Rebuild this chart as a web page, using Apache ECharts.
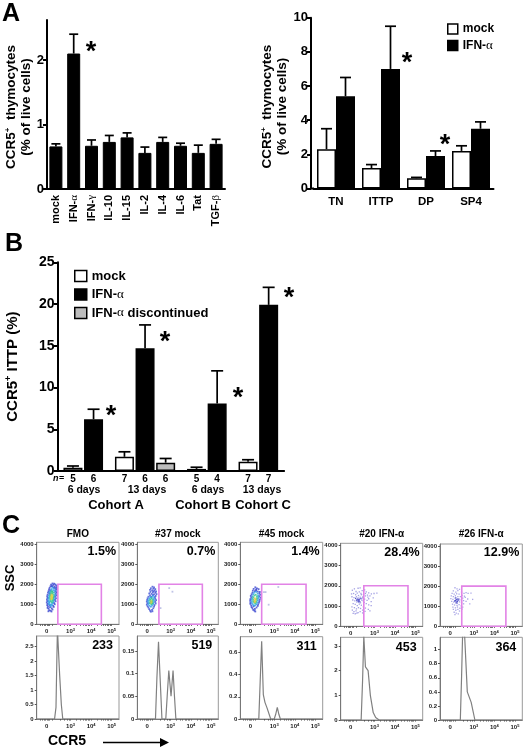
<!DOCTYPE html>
<html>
<head>
<meta charset="utf-8">
<style>html,body{margin:0;padding:0;background:#fff}#c{width:526px;height:750px}</style>
<script src="https://cdn.jsdelivr.net/npm/echarts@6/dist/echarts.min.js"></script>
</head>
<body>
<div id="c"></div>
<script>
// ---- Panel A left ----
const cytokines = ['mock','IFN-α','IFN-γ','IL-10','IL-15','IL-2','IL-4','IL-6','Tat','TGF-β'];
const cytokineValues = [0.66,2.1,0.67,0.73,0.8,0.56,0.73,0.67,0.56,0.7];
const cytokineErrTop = [0.7,2.4,0.76,0.83,0.87,0.65,0.8,0.71,0.68,0.77];
const cytokineTicks = [0,1,2];
// ---- Panel A right ----
const subsets = ['TN','ITTP','DP','SP4'];
const subsetMock = [2.3,1.2,0.6,2.2];
const subsetMockErr = [3.5,1.4,0.65,2.5];
const subsetIfn = [5.4,7.0,1.9,3.5];
const subsetIfnErr = [6.5,9.5,2.2,3.9];
// ---- Panel B (spacer slots are blank categories) ----
const cohortSlots = ['','5','','6','','','7','','6','','6','','','5','','4','','','7','','7',''];
const cohortMock = [null,0.4,null,null,null,null,1.7,null,null,null,null,null,null,0.25,null,null,null,null,1.1,null,null,null];
const cohortMockErr = [null,0.6,null,null,null,null,2.3,null,null,null,null,null,null,0.45,null,null,null,null,1.35,null,null,null];
const cohortIfn = [null,null,null,6.2,null,null,null,null,14.7,null,null,null,null,null,null,8.1,null,null,null,null,19.9,null];
const cohortIfnErr = [null,null,null,7.4,null,null,null,null,17.5,null,null,null,null,null,null,12,null,null,null,null,22,null];
const cohortDisc = [null,null,null,null,null,null,null,null,null,null,1.0,null,null,null,null,null,null,null,null,null,null,null];
const cohortDiscErr = [null,null,null,null,null,null,null,null,null,null,1.5,null,null,null,null,null,null,null,null,null,null,null];
// ---- Panel C ----
const sampleNames = ['FMO','#37 mock','#45 mock','#20 IFN-α','#26 IFN-α'];
const gatePercent = ['1.5%','0.7%','1.4%','28.4%','12.9%'];
const medians = ['233','519','311','453','364'];
const gateLow = [2.38,2.42,2.39,2.48,2.41];
const gateHigh = [4.5,4.57,4.55,4.64,4.56];
const gateTop = 2000;
const histMax = [2.87,0.183,0.741,3.35,1.175];
const histTicks = [[0,0.5,1,1.5,2,2.5],[0,0.05,0.1,0.15],[0,0.2,0.4,0.6],[0,1,2,3],[0,0.2,0.4,0.6,0.8,1]];
const hist0 = [[1.35,0],[2.22,0],[2.29,0.4],[2.33,2.0],[2.36,3.1],[2.42,3.1],[2.47,1.5],[2.55,0.5],[2.62,0],[5.36,0]];
const hist1 = [[1.35,0],[2.25,0],[2.32,0.09],[2.4,0.17],[2.48,0.09],[2.57,0],[2.76,0],[2.83,0.05],[2.91,0.107],[3.02,0.05],[3.12,0.107],[3.19,0.05],[3.26,0],[5.36,0]];
const hist2 = [[1.35,0],[2.25,0],[2.32,0.35],[2.39,0.7],[2.47,0.22],[2.55,0.15],[2.65,0.1],[2.72,0.11],[2.83,0],[3.0,0],[3.07,0.04],[3.15,0.105],[3.23,0.04],[3.3,0],[5.36,0]];
const hist3 = [[1.35,0],[2.35,0],[2.42,1.6],[2.48,3.4],[2.56,2.15],[2.69,2.0],[2.8,1.0],[2.94,0.3],[3.06,0.1],[3.23,0],[5.36,0]];
const hist4 = [[1.35,0],[2.34,0],[2.4,0.6],[2.45,1.2],[2.55,1.2],[2.68,0.4],[2.87,0.25],[3.05,0],[5.36,0]];
const histograms = [hist0,hist1,hist2,hist3,hist4];

// flow plot events by density colour
const fmoBlue = [[2.12,2040],[2.2,2030],[2.05,1980],[2.16,1970],[2.26,1990],[2.3,1940],[2.02,1900],[2.1,1910],[2.21,1880],[2.31,1860],[1.98,1820],[2.25,1810],[2.33,1780],[1.95,1750],[2.01,1700],[2.29,1720],[1.93,1660],[2.27,1640],[2.32,1600],[1.9,1580],[1.97,1540],[2.28,1530],[1.88,1480],[2.3,1450],[1.86,1400],[2.26,1380],[1.88,1320],[2.29,1300],[1.85,1240],[2.24,1220],[1.87,1160],[2.27,1150],[1.84,1090],[2.2,1060],[1.88,1020],[2.23,1000],[1.86,950],[2.15,930],[1.9,900],[2.18,870],[1.88,820],[2.08,800],[1.93,780],[2.12,740],[1.96,700],[2.03,680],[1.92,650],[2.07,640],[2.0,860],[2.08,1900],[2.18,1830],[1.98,950]];
const fmoCyan = [[2.12,1840],[2.2,1780],[2.08,1760],[2.04,1700],[2.17,1700],[2.24,1680],[2.0,1620],[2.12,1640],[2.22,1600],[1.97,1580],[2.24,1500],[2.0,1480],[1.94,1440],[2.22,1420],[1.94,1350],[2.2,1340],[1.92,1280],[2.2,1260],[1.94,1200],[2.18,1180],[1.92,1130],[2.16,1110],[1.96,1070],[2.12,1060],[1.94,1010],[2.1,960],[2.0,970],[2.04,900],[2.06,1000],[1.98,1120]];
const fmoGreen = [[2.1,1640],[2.16,1580],[2.04,1550],[2.1,1540],[2.16,1480],[2.02,1450],[2.18,1400],[2.0,1380],[2.15,1320],[2.0,1300],[2.14,1240],[2.02,1220],[2.12,1180],[2.04,1150],[2.09,1100],[2.06,1640]];
const fmoYellow = [[2.07,1480],[2.11,1440],[2.05,1400],[2.1,1370],[2.07,1330],[2.1,1280],[2.05,1260]];

const m37Blue = [[2.1,1880],[2.18,1840],[2.02,1800],[2.14,1780],[2.24,1760],[1.98,1720],[2.08,1700],[2.2,1680],[2.28,1640],[2.0,1620],[2.12,1600],[2.24,1580],[1.94,1540],[2.06,1520],[2.18,1500],[2.3,1510],[1.98,1440],[2.26,1420],[1.9,1380],[2.22,1360],[1.86,1300],[2.24,1280],[1.84,1220],[2.28,1210],[1.82,1140],[2.24,1120],[1.85,1060],[2.26,1040],[1.82,980],[2.2,960],[1.86,900],[2.18,880],[1.9,840],[2.14,800],[1.94,760],[2.08,720],[1.98,680],[2.02,630],[2.1,650],[2.15,1650],[2.05,1380],[2.12,1460]];
const m37Cyan = [[2.12,1420],[2.0,1360],[2.18,1340],[1.94,1290],[2.16,1260],[1.9,1200],[2.18,1180],[1.88,1130],[2.16,1100],[1.92,1060],[2.14,1020],[1.9,990],[2.08,940],[1.96,930],[2.02,880],[2.06,1320]];
const m37Green = [[2.06,1300],[2.0,1250],[2.1,1220],[1.98,1190],[2.1,1150],[2.0,1120],[2.08,1090],[1.98,1060],[2.04,1010],[2.1,1040]];
const m37Yellow = [[2.04,1170],[2.06,1110],[2.03,1070]];
const m37Out = [[2.5,810],[2.93,1810],[3.09,1630]];

const m45Blue = [[2.08,1850],[2.16,1800],[2.0,1770],[2.12,1740],[2.24,1760],[1.96,1680],[2.06,1660],[2.2,1640],[2.3,1620],[1.94,1580],[2.28,1550],[1.9,1500],[2.32,1480],[1.86,1420],[2.28,1400],[1.88,1340],[2.34,1330],[1.84,1260],[2.3,1240],[1.83,1180],[2.28,1160],[1.84,1090],[2.26,1080],[1.84,1020],[2.22,1000],[1.88,940],[2.2,920],[1.9,860],[2.14,840],[1.94,800],[2.06,770],[1.98,720],[2.04,680],[2.08,640],[2.12,1700],[2.0,900]];
const m45Cyan = [[2.12,1620],[2.02,1580],[2.2,1540],[1.98,1500],[2.22,1440],[1.94,1400],[2.24,1360],[1.92,1300],[2.22,1280],[1.9,1220],[2.2,1200],[1.9,1130],[2.18,1100],[1.92,1060],[2.14,1010],[1.96,980],[2.08,950],[2.02,930]];
const m45Green = [[2.1,1480],[2.04,1440],[2.16,1400],[1.98,1350],[2.16,1310],[1.98,1250],[2.14,1220],[1.98,1160],[2.12,1120],[2.02,1080],[2.08,1050]];
const m45Yellow = [[2.06,1300],[2.1,1240],[2.04,1200],[2.08,1150],[2.05,1110]];
const m45Out = [[2.5,1610],[2.58,1610],[2.73,980],[3.2,1865]];

const ifn20Pale = [[1.92,1780],[2.02,1850],[2.1,1720],[2.2,1880],[2.3,1900],[2.4,1760],[2.52,1800],[2.6,1700],[2.72,1650],[2.85,1600],[2.98,1620],[3.12,1640],[1.88,1600],[1.98,1620],[2.08,1560],[2.16,1640],[2.26,1700],[2.34,1620],[2.46,1560],[2.56,1500],[2.68,1440],[2.78,1500],[2.94,1400],[1.9,1460],[2.0,1420],[2.12,1460],[2.22,1520],[2.3,1440],[2.42,1400],[2.52,1340],[2.64,1280],[2.72,1360],[2.84,1220],[1.94,1300],[2.04,1260],[2.14,1200],[2.3,1220],[2.38,1300],[2.5,1180],[2.6,1120],[2.72,1060],[2.84,1020],[1.96,1120],[2.06,1080],[2.16,1020],[2.26,1100],[2.36,1040],[2.46,960],[2.56,900],[2.7,840],[2.78,760],[1.9,960],[2.02,920],[2.12,860],[2.22,920],[2.32,880],[2.42,800],[2.54,740],[1.92,800],[2.0,720],[2.1,760],[2.2,680],[2.3,720],[2.42,660],[1.96,640],[2.06,620],[2.14,650],[2.24,1330],[2.32,1160],[2.2,1400],[2.12,1320],[2.44,1460],[2.56,1620],[2.66,1540],[2.36,1560]];
const ifn20Dark = [[2.18,1340],[2.22,1300],[2.26,1260],[2.2,1240],[2.28,1340],[2.14,1280],[2.24,1200],[2.34,1380],[2.46,1260],[2.08,1380]];

const ifn26Pale = [[2.08,1920],[2.18,1860],[2.22,1780],[2.3,1840],[2.0,1760],[2.12,1700],[2.4,1700],[2.52,1640],[2.62,1680],[2.72,1640],[2.86,1650],[1.94,1640],[2.04,1600],[2.16,1620],[2.28,1600],[2.42,1540],[2.54,1500],[1.9,1520],[2.0,1480],[2.1,1520],[2.22,1480],[2.34,1480],[2.46,1400],[2.58,1440],[2.7,1360],[2.94,1340],[1.88,1380],[1.98,1340],[2.08,1400],[2.28,1360],[2.38,1320],[2.5,1280],[2.62,1240],[1.92,1240],[2.02,1200],[2.12,1160],[2.3,1220],[2.4,1180],[2.5,1120],[2.8,1120],[1.96,1100],[2.06,1060],[2.18,1040],[2.28,1080],[2.38,1020],[2.46,960],[1.98,960],[2.1,920],[2.2,960],[2.32,900],[2.42,860],[2.0,840],[2.12,800],[2.22,840],[2.3,760],[2.04,700],[2.14,660],[2.24,620],[2.08,580]];
const ifn26Dark = [[2.14,1340],[2.18,1300],[2.1,1280],[2.2,1240],[2.14,1220],[2.22,1360],[2.06,1260],[2.26,1300],[2.12,1420],[2.18,1160]];

const flowLayers = [
  [[fmoBlue,'#3a46d0'],[fmoCyan,'#2f9fe6'],[fmoGreen,'#35c58a'],[fmoYellow,'#d8d040']],
  [[m37Blue,'#3f50d4'],[m37Cyan,'#2f9fe6'],[m37Green,'#35c58a'],[m37Yellow,'#c8d050'],[m37Out,'#b0b4e0']],
  [[m45Blue,'#3a46d0'],[m45Cyan,'#2f9fe6'],[m45Green,'#35c58a'],[m45Yellow,'#d8c840'],[m45Out,'#b0b4e0']],
  [[ifn20Pale,'#8c88dc'],[ifn20Dark,'#2a2ac0']],
  [[ifn26Pale,'#9490e0'],[ifn26Dark,'#2a2ac0']]
];
const sscTicks = [0,1000,2000,3000,4000];
const logLabelTicks = [1.84,3,4,5];
const logMinorTicks = [1.5,1.6,1.7,1.78,1.84,1.9,1.98,2.1,2.5,2.7,2.82,2.92,3,3.3,3.48,3.6,3.7,3.78,3.85,3.92,4,4.3,4.48,4.6,4.7,4.78,4.85,4.92,5];

// ---- layout ----
const colLeft = [36.7,137.3,240.3,340.7,440];
const colWidth = [82.3,81,82.4,82,82.3];
const topRow = [[542.3,82],[542.3,82],[542.3,82],[543.3,83],[544,82.3]];
const bottomRow = [[636,83],[636,83],[636.7,82.3],[637.3,82.7],[637.3,82.7]];
const FONT = '"Liberation Sans", Arial, Helvetica, sans-serif';

const greekRich = {g:{fontFamily:'"Liberation Serif","DejaVu Serif",serif',fontWeight:'normal'}};
const greek = s => s.replace(/[αβγ]/g, m => '{g|'+m+'}');

const grids=[], xAxes=[], yAxes=[], series=[], graphics=[];
function addGrid(g,x,y){ g.outerBoundsMode='none'; grids.push(g); xAxes.push(Object.assign({gridIndex:grids.length-1},x)); yAxes.push(Object.assign({gridIndex:grids.length-1},y)); return grids.length-1; }
const blackLine = {show:true,onZero:false,lineStyle:{color:'#000',width:2}};
const blackTick = {show:true,length:4,lineStyle:{color:'#000',width:2}};

function errorSeries(gi,tops,bases,dx,capHalf,name){
  const data=[]; tops.forEach((t,i)=>{ if(t!=null) data.push([i,t,bases[i]]); });
  series.push({type:'custom',name:name,xAxisIndex:gi,yAxisIndex:gi,data,silent:true,z:3,clip:false,
    encode:{x:0,y:[1,2]},
    renderItem:(p,api)=>{
      const a=api.coord([api.value(0),api.value(1)]), b=api.coord([api.value(0),api.value(2)]);
      const st={stroke:'#000',lineWidth:1.7,fill:null};
      return {type:'group',children:[
        {type:'line',shape:{x1:a[0]+dx,y1:a[1],x2:b[0]+dx,y2:b[1]},style:st},
        {type:'line',shape:{x1:a[0]+dx-capHalf,y1:a[1],x2:a[0]+dx+capHalf,y2:a[1]},style:st}
      ]};
    }});
}

const nameRich = {a:{fontFamily:FONT,fontWeight:'bold',fontSize:13.5,color:'#000',lineHeight:15},s:{fontFamily:FONT,fontWeight:'bold',fontSize:8,color:'#000',verticalAlign:'top',lineHeight:15}};

// Panel A left
let g = addGrid({left:47,top:20,width:178,height:169},
 {type:'category',data:cytokines,axisLine:blackLine,axisTick:{show:false},
  axisLabel:{interval:0,rotate:90,margin:6,color:'#000',fontFamily:FONT,fontWeight:'bold',fontSize:11,rich:greekRich,formatter:greek}},
 {type:'value',min:0,max:2.62,splitLine:{show:false},axisLine:blackLine,axisTick:Object.assign({},blackTick,{customValues:cytokineTicks}),
  axisLabel:{customValues:cytokineTicks,color:'#000',fontFamily:FONT,fontWeight:'bold',fontSize:13,margin:3},
  name:'{a|CCR5}{s|+}{a|  thymocytes}\n{a|(% of live cells)}',nameLocation:'middle',nameRotate:90,nameGap:13.5,
  nameTextStyle:{padding:[0,5,0,0],rich:nameRich}});
series.push({type:'bar',xAxisIndex:g,yAxisIndex:g,data:cytokineValues,barWidth:13,itemStyle:{color:'#000',borderColor:'#000',borderWidth:1}});
errorSeries(g,cytokineErrTop,cytokineValues,0,4.5);

// Panel A right
g = addGrid({left:313.5,top:17.7,width:180,height:170.8},
 {type:'category',data:subsets,axisLine:blackLine,axisTick:{show:false},
  axisLabel:{interval:0,margin:7,color:'#000',fontFamily:FONT,fontWeight:'bold',fontSize:11.5}},
 {type:'value',min:0,max:10,interval:2,offset:2.5,splitLine:{show:false},axisLine:blackLine,axisTick:blackTick,
  axisLabel:{color:'#000',fontFamily:FONT,fontWeight:'bold',fontSize:13,margin:3},
  name:'{a|CCR5}{s|+}{a|  thymocytes}\n{a|(% of live cells)}',nameLocation:'middle',nameRotate:90,nameGap:17,
  nameTextStyle:{padding:[0,7,0,0],rich:nameRich}});
series.push({type:'bar',name:'mock',xAxisIndex:g,yAxisIndex:g,data:subsetMock,barWidth:19,barGap:0,itemStyle:{color:'#fff',borderColor:'#000',borderWidth:1.5}});
series.push({type:'bar',name:'IFN-α',xAxisIndex:g,yAxisIndex:g,data:subsetIfn,barWidth:19,barGap:0,itemStyle:{color:'#000',borderColor:'#000',borderWidth:1.5}});
errorSeries(g,subsetMockErr,subsetMock,-9.5,5.5);
errorSeries(g,subsetIfnErr,subsetIfn,9.5,5.5);
graphics.push({type:'line',shape:{x1:310,y1:188.5,x2:314,y2:188.5},style:{stroke:'#000',lineWidth:2}});

// Panel B
g = addGrid({left:57.5,top:262.3,width:226.6,height:208.7},
 {type:'category',data:cohortSlots,axisLine:blackLine,axisTick:{show:false},
  axisLabel:{interval:0,margin:3,color:'#000',fontFamily:FONT,fontWeight:'bold',fontSize:10}},
 {type:'value',min:0,max:25,interval:5,splitLine:{show:false},axisLine:blackLine,axisTick:blackTick,
  axisLabel:{color:'#000',fontFamily:FONT,fontWeight:'bold',fontSize:14,margin:3},
  name:'{a|CCR5}{s|+}{a| ITTP (%)}',nameLocation:'middle',nameRotate:90,nameGap:36,
  nameTextStyle:{rich:{a:{fontFamily:FONT,fontWeight:'bold',fontSize:15,color:'#000',lineHeight:17},s:{fontFamily:FONT,fontWeight:'bold',fontSize:9,color:'#000',verticalAlign:'top',lineHeight:17}}}});
const bStyle = c=>({color:c,borderColor:'#000',borderWidth:1.5});
series.push({type:'bar',name:'mock',xAxisIndex:g,yAxisIndex:g,data:cohortMock,barWidth:19,barGap:'-100%',itemStyle:bStyle('#fff')});
series.push({type:'bar',name:'IFN-α',xAxisIndex:g,yAxisIndex:g,data:cohortIfn,barWidth:19,barGap:'-100%',itemStyle:bStyle('#000')});
series.push({type:'bar',name:'IFN-α discontinued',xAxisIndex:g,yAxisIndex:g,data:cohortDisc,barWidth:19,barGap:'-100%',itemStyle:bStyle('#bdbdbd')});
errorSeries(g,cohortMockErr,cohortMock,0,6);
errorSeries(g,cohortIfnErr,cohortIfn,0,6);
errorSeries(g,cohortDiscErr,cohortDisc,0,6);

// Panel C
const smallLabel = {color:'#222',fontFamily:FONT,fontWeight:'bold',fontSize:6,margin:3};
const thin = {show:true,onZero:false,lineStyle:{color:'#777',width:1}};
const smallTick = {show:true,length:2,lineStyle:{color:'#555',width:1}};
function logAxis(){ return {type:'value',min:1.35,max:5.36,splitLine:{show:false},axisLine:thin,
  axisTick:Object.assign({},smallTick,{length:1.5,customValues:logMinorTicks}),
  axisLabel:Object.assign({},smallLabel,{margin:4,customValues:logLabelTicks,
    rich:{s:{fontSize:4,fontWeight:'bold',fontFamily:FONT,color:'#222',verticalAlign:'top'}},
    formatter:v=>v<2?'0':'10{s|'+v+'}'})}; }
sampleNames.forEach((nm,i)=>{
  // dot plot
  let gi = addGrid({left:colLeft[i],top:topRow[i][0],width:colWidth[i],height:topRow[i][1],show:true,borderColor:'#999',borderWidth:1},
    logAxis(),
    {type:'value',min:0,max:4100,splitLine:{show:false},axisLine:thin,
     axisTick:Object.assign({},smallTick,{customValues:sscTicks}),
     axisLabel:Object.assign({},smallLabel,{customValues:sscTicks,formatter:v=>String(v)})});
  flowLayers[i].forEach(([pts,col])=>{
    series.push({type:'scatter',xAxisIndex:gi,yAxisIndex:gi,data:pts,symbol:'rect',symbolSize:i>=3?1.3:1.8,silent:true,itemStyle:{color:col},z:2});
  });
  series.push({type:'custom',xAxisIndex:gi,yAxisIndex:gi,silent:true,z:4,clip:false,data:[[gateLow[i],0,gateHigh[i],gateTop]],encode:{x:[0,2],y:[1,3]},
    renderItem:(p,api)=>{
      const a=api.coord([api.value(0),api.value(3)]), b=api.coord([api.value(2),api.value(1)]);
      return {type:'rect',shape:{x:a[0],y:a[1],width:b[0]-a[0],height:b[1]-a[1]},style:{fill:null,stroke:'#e283e6',lineWidth:1.6}};
    }});
  // histogram
  const h = histMax[i];
  gi = addGrid({left:colLeft[i],top:bottomRow[i][0],width:colWidth[i],height:bottomRow[i][1],show:true,borderColor:'#999',borderWidth:1},
    logAxis(),
    {type:'value',min:0,max:h,splitLine:{show:false},axisLine:thin,
     axisTick:Object.assign({},smallTick,{customValues:histTicks[i]}),
     axisLabel:Object.assign({},smallLabel,{customValues:histTicks[i],formatter:v=>String(v)})});
  series.push({type:'line',xAxisIndex:gi,yAxisIndex:gi,data:histograms[i],symbol:'none',silent:true,clip:true,lineStyle:{color:'#808080',width:1.2}});
  // texts
  const right = colLeft[i]+colWidth[i]-3;
  graphics.push(txt(nm,colLeft[i]+colWidth[i]/2,534.5,'bold 10px '+FONT,'center'));
  graphics.push(txt(gatePercent[i],right,topRow[i][0]+9,'bold 12.5px '+FONT,'right'));
  graphics.push(txt(medians[i],right-3,bottomRow[i][0]+10,'bold 12.5px '+FONT,'right'));
});
function txt(t,x,y,font,align,rot){
  return {type:'text',x:x,y:y,rotation:rot||0,style:{text:t,font:font,align:align||'left',verticalAlign:'middle',textAlign:align||'left',textVerticalAlign:'middle',fill:'#000'},z:20};
}
// panel letters
const letterFont = 'bold 25px '+FONT;
graphics.push(txt('A',2,14,letterFont));
graphics.push(txt('B',5,244,letterFont));
graphics.push(txt('C',2,526,letterFont));
// significance stars
const starFont = 'bold 27px '+FONT;
const starPositions = [[91,53],[407,64],[445,146],[111,417],[165,343],[238,399],[289,299]];
starPositions.forEach(p=>graphics.push(txt('*',p[0],p[1],starFont,'center')));
// panel B text
const t10 = 'bold 10.5px '+FONT, t13='bold 13px '+FONT;
graphics.push({type:'text',x:53,y:479,style:{text:'n',font:'italic bold 9px '+FONT,align:'left',verticalAlign:'middle',textAlign:'left',textVerticalAlign:'middle',fill:'#000'}});
graphics.push(txt('=',59,479,'bold 9px '+FONT));
[['6 days',84],['13 days',147],['6 days',208],['13 days',262]].forEach(a=>graphics.push(txt(a[0],a[1],490,t10,'center')));
[['Cohort A',116],['Cohort B',203],['Cohort C',263]].forEach(a=>graphics.push(txt(a[0],a[1],505,t13,'center')));
// panel C axis captions
graphics.push(txt('SSC',10,578,'bold 13px '+FONT,'center',Math.PI/2));
graphics.push(txt('CCR5',67,741.5,'bold 14px '+FONT,'center'));
graphics.push({type:'line',shape:{x1:103,y1:742.5,x2:162,y2:742.5},style:{stroke:'#000',lineWidth:1.5}});
graphics.push({type:'polygon',shape:{points:[[160,738],[169,742.5],[160,747]]},style:{fill:'#000'}});

const legendRich = {g:{fontFamily:'"Liberation Serif","DejaVu Serif",serif',fontWeight:'normal',fontSize:13}};
const chart = echarts.init(document.getElementById('c'),null,{renderer:'canvas'});
chart.setOption({
  animation:false,
  backgroundColor:'#fff',
  textStyle:{fontFamily:FONT},
  grid:grids,xAxis:xAxes,yAxis:yAxes,series:series,
  graphic:{elements:graphics},
  legend:[
   {data:[{name:'mock',icon:'rect'},{name:'IFN-α',icon:'rect'}],left:442,top:18,orient:'vertical',itemWidth:10,itemHeight:10,itemGap:4,selectedMode:false,
    textStyle:{color:'#000',fontFamily:FONT,fontWeight:'bold',fontSize:12,rich:legendRich},formatter:greek,
    itemStyle:{borderColor:'#000',borderWidth:1.5}},
   {data:[{name:'mock',icon:'rect'},{name:'IFN-α',icon:'rect'},{name:'IFN-α discontinued',icon:'rect'}],left:69,top:264.5,orient:'vertical',itemWidth:12,itemHeight:11,itemGap:5.5,selectedMode:false,
    textStyle:{color:'#000',fontFamily:FONT,fontWeight:'bold',fontSize:13,rich:legendRich},formatter:greek,
    itemStyle:{borderColor:'#000',borderWidth:1.5}}
  ]
});
</script>
</body>
</html>
